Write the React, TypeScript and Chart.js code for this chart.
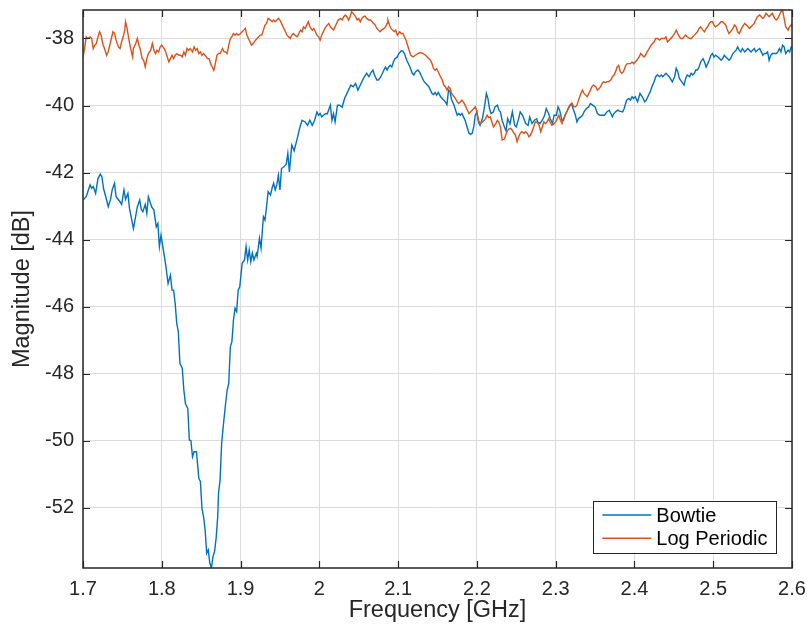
import React, { useEffect, useRef } from 'react';
import { Chart, registerables } from 'chart.js';

Chart.register(...registerables);

// ---------- data ----------
const seriesNames = ['Bowtie', 'Log Periodic'];
const seriesColors = ['#0072BD', '#D95319'];

const xTickValues = [1.7, 1.8, 1.9, 2.0, 2.1, 2.2, 2.3, 2.4, 2.5, 2.6];
const yTickValues = [-52, -50, -48, -46, -44, -42, -40, -38];
const xRange = [1.7, 2.6];
const yRange = [-53.8, -37.15];

// [frequency GHz, magnitude dB]
const bowtie: [number, number][] = [
  [1.700,-42.82],[1.704,-42.72],[1.709,-42.37],[1.711,-42.47],[1.713,-42.42],[1.716,-42.62],[1.719,-42.18],[1.722,-42.05],[1.724,-42.13],[1.726,-42.47],[1.730,-42.82],[1.732,-43.02],[1.735,-42.80],[1.737,-42.52],[1.740,-42.32],[1.742,-42.72],[1.747,-42.87],[1.749,-42.95],[1.752,-42.52],[1.754,-42.80],[1.757,-42.62],[1.759,-43.07],[1.764,-43.67],[1.766,-43.42],[1.769,-43.02],[1.772,-42.82],[1.774,-43.10],[1.776,-43.17],[1.779,-42.95],[1.781,-43.22],[1.783,-42.72],[1.787,-43.02],[1.790,-43.12],[1.793,-43.62],[1.795,-43.52],[1.797,-44.21],[1.799,-43.87],[1.802,-44.31],[1.805,-44.76],[1.808,-45.31],[1.811,-45.06],[1.813,-45.51],[1.815,-45.51],[1.817,-45.90],[1.819,-46.50],[1.821,-46.75],[1.823,-47.69],[1.826,-47.84],[1.828,-48.49],[1.830,-48.89],[1.833,-49.04],[1.835,-49.98],[1.837,-50.00],[1.839,-50.48],[1.841,-50.33],[1.844,-50.33],[1.847,-51.12],[1.849,-51.22],[1.851,-52.02],[1.853,-52.27],[1.855,-52.66],[1.857,-53.36],[1.859,-53.26],[1.861,-53.66],[1.863,-53.80],[1.865,-53.46],[1.867,-53.31],[1.869,-52.91],[1.871,-52.27],[1.872,-51.57],[1.874,-51.17],[1.876,-50.08],[1.878,-49.58],[1.881,-48.89],[1.883,-48.49],[1.885,-48.29],[1.887,-47.20],[1.889,-47.05],[1.891,-46.40],[1.893,-46.05],[1.895,-46.15],[1.897,-45.51],[1.899,-45.41],[1.902,-44.71],[1.905,-44.61],[1.907,-44.21],[1.909,-44.61],[1.911,-44.31],[1.913,-44.66],[1.915,-44.40],[1.917,-44.61],[1.920,-44.41],[1.921,-44.50],[1.924,-43.96],[1.926,-44.26],[1.929,-43.32],[1.931,-43.42],[1.933,-43.02],[1.935,-42.57],[1.938,-42.67],[1.940,-42.47],[1.942,-42.32],[1.944,-42.52],[1.946,-42.37],[1.948,-42.08],[1.950,-42.52],[1.952,-41.88],[1.955,-41.83],[1.958,-41.75],[1.960,-41.43],[1.962,-41.98],[1.965,-41.18],[1.968,-41.35],[1.972,-40.98],[1.975,-40.68],[1.978,-40.44],[1.982,-40.49],[1.985,-40.59],[1.988,-40.44],[1.991,-40.59],[1.994,-40.44],[1.997,-40.19],[1.999,-40.29],[2.001,-40.24],[2.003,-40.34],[2.008,-40.24],[2.010,-40.25],[2.014,-39.99],[2.016,-40.44],[2.018,-40.24],[2.020,-40.49],[2.023,-39.99],[2.026,-39.99],[2.029,-40.05],[2.032,-39.79],[2.034,-39.69],[2.037,-39.54],[2.040,-39.39],[2.043,-39.44],[2.046,-39.34],[2.049,-39.54],[2.051,-39.44],[2.056,-39.19],[2.060,-39.04],[2.063,-39.14],[2.065,-39.04],[2.068,-38.94],[2.070,-39.09],[2.073,-39.24],[2.075,-39.24],[2.078,-39.14],[2.082,-38.94],[2.084,-38.85],[2.086,-38.94],[2.088,-38.85],[2.090,-38.80],[2.092,-38.85],[2.094,-38.70],[2.096,-38.60],[2.099,-38.55],[2.101,-38.45],[2.104,-38.37],[2.106,-38.38],[2.108,-38.45],[2.111,-38.65],[2.115,-38.85],[2.118,-39.04],[2.120,-39.09],[2.122,-39.00],[2.125,-38.94],[2.127,-38.99],[2.130,-39.14],[2.133,-39.29],[2.137,-39.39],[2.139,-39.44],[2.141,-39.54],[2.143,-39.64],[2.145,-39.67],[2.147,-39.61],[2.149,-39.69],[2.151,-39.61],[2.154,-39.74],[2.156,-39.79],[2.158,-39.84],[2.160,-39.89],[2.162,-39.97],[2.164,-39.54],[2.166,-39.59],[2.168,-39.84],[2.171,-39.99],[2.173,-40.14],[2.175,-40.29],[2.177,-40.24],[2.179,-40.29],[2.181,-40.24],[2.183,-40.34],[2.185,-40.44],[2.188,-40.68],[2.190,-40.83],[2.192,-40.86],[2.194,-40.83],[2.196,-40.64],[2.198,-40.29],[2.200,-40.19],[2.202,-40.49],[2.204,-40.59],[2.207,-40.39],[2.210,-39.99],[2.212,-39.64],[2.214,-39.79],[2.216,-40.09],[2.218,-40.24],[2.221,-40.19],[2.223,-40.04],[2.226,-39.99],[2.228,-40.14],[2.230,-40.20],[2.232,-40.44],[2.235,-40.64],[2.237,-40.76],[2.239,-40.39],[2.242,-40.55],[2.245,-40.19],[2.248,-40.59],[2.250,-40.64],[2.253,-40.39],[2.255,-40.19],[2.258,-40.29],[2.262,-40.54],[2.265,-40.59],[2.267,-40.34],[2.270,-40.54],[2.273,-40.44],[2.276,-40.40],[2.277,-40.49],[2.280,-40.54],[2.283,-40.44],[2.286,-40.29],[2.288,-40.09],[2.291,-40.24],[2.293,-40.39],[2.296,-40.54],[2.298,-40.29],[2.301,-40.29],[2.303,-40.04],[2.305,-40.14],[2.308,-40.44],[2.310,-40.44],[2.312,-40.29],[2.315,-40.14],[2.318,-39.99],[2.320,-39.94],[2.322,-40.09],[2.325,-40.29],[2.327,-40.49],[2.329,-40.39],[2.332,-40.34],[2.334,-40.29],[2.336,-40.19],[2.339,-40.09],[2.342,-40.04],[2.344,-39.94],[2.347,-39.99],[2.350,-40.04],[2.353,-40.24],[2.356,-40.29],[2.359,-40.29],[2.362,-40.29],[2.365,-40.19],[2.368,-40.14],[2.370,-40.24],[2.372,-40.34],[2.374,-40.24],[2.376,-40.19],[2.379,-40.14],[2.381,-40.17],[2.385,-40.19],[2.387,-40.09],[2.390,-39.84],[2.393,-39.79],[2.395,-39.84],[2.397,-39.74],[2.399,-39.79],[2.401,-39.74],[2.404,-39.89],[2.407,-39.64],[2.410,-39.74],[2.413,-39.89],[2.415,-39.84],[2.417,-39.74],[2.420,-39.59],[2.423,-39.39],[2.425,-39.29],[2.427,-39.14],[2.429,-39.09],[2.432,-39.14],[2.434,-39.09],[2.436,-39.14],[2.438,-39.09],[2.440,-39.04],[2.442,-39.09],[2.444,-39.14],[2.448,-39.29],[2.451,-39.14],[2.453,-38.89],[2.455,-38.99],[2.457,-39.19],[2.460,-39.29],[2.463,-39.39],[2.465,-39.19],[2.467,-39.09],[2.470,-39.14],[2.472,-39.04],[2.474,-39.09],[2.476,-39.04],[2.478,-38.94],[2.480,-38.94],[2.482,-38.85],[2.484,-38.70],[2.487,-38.60],[2.489,-38.70],[2.491,-38.85],[2.493,-38.75],[2.495,-38.65],[2.497,-38.50],[2.499,-38.45],[2.501,-38.55],[2.503,-38.50],[2.506,-38.55],[2.508,-38.60],[2.510,-38.65],[2.512,-38.60],[2.514,-38.50],[2.516,-38.55],[2.518,-38.60],[2.520,-38.65],[2.522,-38.60],[2.525,-38.45],[2.527,-38.40],[2.529,-38.35],[2.531,-38.25],[2.533,-38.35],[2.535,-38.40],[2.537,-38.30],[2.540,-38.40],[2.542,-38.35],[2.544,-38.30],[2.546,-38.35],[2.548,-38.40],[2.550,-38.35],[2.552,-38.30],[2.554,-38.40],[2.556,-38.35],[2.559,-38.30],[2.561,-38.40],[2.563,-38.50],[2.565,-38.45],[2.567,-38.45],[2.569,-38.40],[2.571,-38.65],[2.573,-38.50],[2.575,-38.45],[2.578,-38.45],[2.580,-38.45],[2.582,-38.40],[2.584,-38.30],[2.586,-38.40],[2.588,-38.20],[2.590,-38.25],[2.592,-38.45],[2.595,-38.35],[2.597,-38.40],[2.599,-38.25],[2.600,-38.25]
];

const logPeriodic: [number, number][] = [
  [1.700,-38.55],[1.702,-38.30],[1.704,-37.95],[1.706,-38.00],[1.709,-37.95],[1.711,-38.00],[1.713,-38.30],[1.715,-38.20],[1.717,-38.15],[1.719,-37.95],[1.721,-37.80],[1.723,-37.90],[1.725,-38.15],[1.728,-38.35],[1.730,-38.50],[1.732,-38.40],[1.734,-38.20],[1.736,-38.00],[1.738,-37.80],[1.740,-37.85],[1.742,-38.05],[1.745,-38.25],[1.747,-38.30],[1.749,-38.10],[1.751,-37.95],[1.753,-37.75],[1.754,-37.50],[1.756,-37.70],[1.758,-38.00],[1.760,-38.25],[1.763,-38.55],[1.764,-38.30],[1.767,-38.15],[1.769,-38.00],[1.771,-38.20],[1.773,-38.35],[1.775,-38.60],[1.777,-38.65],[1.779,-38.85],[1.781,-38.60],[1.783,-38.45],[1.786,-38.35],[1.788,-38.15],[1.790,-38.35],[1.792,-38.45],[1.794,-38.35],[1.796,-38.40],[1.798,-38.25],[1.800,-38.20],[1.803,-38.30],[1.805,-38.40],[1.807,-38.55],[1.809,-38.70],[1.811,-38.60],[1.813,-38.50],[1.815,-38.60],[1.817,-38.50],[1.819,-38.45],[1.822,-38.50],[1.824,-38.50],[1.826,-38.55],[1.828,-38.40],[1.830,-38.50],[1.832,-38.30],[1.834,-38.35],[1.836,-38.30],[1.839,-38.40],[1.841,-38.25],[1.843,-38.35],[1.845,-38.30],[1.847,-38.45],[1.849,-38.40],[1.851,-38.50],[1.853,-38.45],[1.855,-38.50],[1.858,-38.60],[1.860,-38.60],[1.862,-38.75],[1.864,-38.85],[1.866,-38.95],[1.868,-38.75],[1.870,-38.50],[1.872,-38.45],[1.874,-38.45],[1.877,-38.30],[1.879,-38.40],[1.881,-38.40],[1.883,-38.45],[1.885,-38.20],[1.887,-38.00],[1.889,-37.95],[1.891,-37.85],[1.893,-37.90],[1.895,-37.85],[1.897,-37.90],[1.900,-37.85],[1.902,-37.80],[1.904,-37.75],[1.906,-37.70],[1.908,-37.90],[1.910,-38.00],[1.912,-38.10],[1.914,-38.20],[1.916,-38.15],[1.919,-38.05],[1.921,-38.00],[1.923,-37.95],[1.925,-37.90],[1.927,-37.90],[1.929,-37.75],[1.931,-37.60],[1.933,-37.55],[1.935,-37.40],[1.938,-37.45],[1.940,-37.50],[1.942,-37.45],[1.944,-37.50],[1.946,-37.45],[1.948,-37.40],[1.950,-37.45],[1.952,-37.55],[1.955,-37.70],[1.957,-37.80],[1.959,-37.90],[1.961,-37.95],[1.963,-38.00],[1.965,-37.90],[1.967,-37.85],[1.969,-37.90],[1.972,-37.95],[1.974,-37.85],[1.976,-37.75],[1.978,-37.80],[1.980,-37.65],[1.982,-37.70],[1.984,-37.60],[1.986,-37.50],[1.988,-37.65],[1.991,-37.75],[1.993,-37.70],[1.995,-37.80],[1.997,-37.90],[1.999,-37.95],[2.001,-38.05],[2.003,-37.90],[2.005,-37.80],[2.007,-37.70],[2.010,-37.60],[2.012,-37.55],[2.014,-37.65],[2.016,-37.70],[2.018,-37.75],[2.020,-37.65],[2.022,-37.55],[2.024,-37.45],[2.027,-37.40],[2.029,-37.45],[2.031,-37.35],[2.033,-37.30],[2.035,-37.35],[2.037,-37.45],[2.039,-37.35],[2.041,-37.20],[2.043,-37.25],[2.046,-37.35],[2.048,-37.45],[2.050,-37.40],[2.052,-37.50],[2.054,-37.40],[2.056,-37.35],[2.058,-37.33],[2.060,-37.40],[2.063,-37.45],[2.065,-37.45],[2.067,-37.50],[2.069,-37.55],[2.071,-37.60],[2.073,-37.70],[2.075,-37.75],[2.077,-37.80],[2.079,-37.75],[2.082,-37.70],[2.084,-37.65],[2.086,-37.55],[2.087,-37.45],[2.089,-37.60],[2.091,-37.70],[2.093,-37.75],[2.095,-37.80],[2.097,-37.75],[2.099,-37.90],[2.102,-37.80],[2.104,-37.85],[2.106,-37.85],[2.108,-37.95],[2.110,-38.05],[2.112,-38.20],[2.114,-38.35],[2.116,-38.50],[2.119,-38.55],[2.122,-38.50],[2.125,-38.45],[2.128,-38.42],[2.132,-38.45],[2.135,-38.50],[2.137,-38.55],[2.139,-38.60],[2.141,-38.65],[2.143,-38.75],[2.145,-38.90],[2.147,-38.95],[2.149,-38.90],[2.151,-39.00],[2.154,-39.15],[2.156,-39.24],[2.158,-39.39],[2.160,-39.44],[2.162,-39.54],[2.164,-39.44],[2.166,-39.49],[2.168,-39.64],[2.171,-39.74],[2.173,-39.80],[2.175,-39.89],[2.177,-39.94],[2.179,-39.89],[2.181,-39.84],[2.183,-39.90],[2.185,-39.99],[2.188,-40.14],[2.190,-40.24],[2.192,-40.19],[2.194,-40.14],[2.196,-40.09],[2.198,-40.04],[2.200,-40.19],[2.202,-40.44],[2.204,-40.54],[2.207,-40.49],[2.209,-40.45],[2.211,-40.39],[2.213,-40.29],[2.215,-40.36],[2.217,-40.34],[2.219,-40.49],[2.221,-40.64],[2.224,-40.54],[2.226,-40.44],[2.228,-40.50],[2.230,-40.65],[2.232,-41.03],[2.235,-41.00],[2.237,-40.85],[2.239,-40.74],[2.241,-40.70],[2.243,-40.68],[2.245,-40.74],[2.247,-40.83],[2.249,-40.88],[2.251,-41.08],[2.253,-40.93],[2.255,-40.83],[2.257,-40.78],[2.260,-40.83],[2.262,-40.78],[2.264,-40.83],[2.266,-40.93],[2.268,-40.88],[2.270,-40.78],[2.272,-40.64],[2.274,-40.49],[2.276,-40.49],[2.279,-40.59],[2.281,-40.78],[2.283,-40.64],[2.285,-40.49],[2.287,-40.54],[2.289,-40.49],[2.291,-40.39],[2.293,-40.49],[2.295,-40.59],[2.298,-40.54],[2.300,-40.49],[2.302,-40.39],[2.304,-40.29],[2.306,-40.44],[2.308,-40.54],[2.310,-40.39],[2.312,-40.29],[2.315,-40.14],[2.317,-40.04],[2.319,-39.99],[2.321,-39.94],[2.323,-40.04],[2.325,-40.04],[2.327,-39.99],[2.329,-39.84],[2.332,-39.64],[2.334,-39.54],[2.336,-39.64],[2.338,-39.69],[2.340,-39.74],[2.342,-39.64],[2.344,-39.54],[2.346,-39.44],[2.348,-39.39],[2.351,-39.44],[2.353,-39.54],[2.355,-39.50],[2.357,-39.44],[2.359,-39.34],[2.361,-39.29],[2.363,-39.32],[2.365,-39.29],[2.367,-39.29],[2.370,-39.24],[2.372,-39.14],[2.374,-39.09],[2.376,-38.99],[2.378,-38.85],[2.380,-38.80],[2.382,-38.99],[2.384,-39.04],[2.386,-38.99],[2.389,-38.80],[2.391,-38.75],[2.393,-38.75],[2.395,-38.75],[2.397,-38.70],[2.399,-38.75],[2.401,-38.70],[2.403,-38.65],[2.406,-38.55],[2.408,-38.45],[2.410,-38.50],[2.412,-38.55],[2.414,-38.50],[2.416,-38.40],[2.418,-38.33],[2.421,-38.20],[2.423,-38.15],[2.425,-38.10],[2.427,-38.00],[2.429,-38.00],[2.432,-38.05],[2.434,-38.00],[2.436,-38.00],[2.438,-38.00],[2.440,-37.95],[2.442,-38.10],[2.444,-38.05],[2.446,-38.00],[2.448,-37.95],[2.451,-37.85],[2.453,-37.75],[2.455,-37.85],[2.457,-37.95],[2.459,-38.00],[2.461,-38.00],[2.463,-37.95],[2.465,-37.90],[2.467,-37.95],[2.470,-38.00],[2.472,-38.00],[2.474,-37.95],[2.476,-37.90],[2.478,-37.85],[2.480,-37.80],[2.482,-37.70],[2.484,-37.65],[2.487,-37.75],[2.489,-37.80],[2.491,-37.70],[2.493,-37.65],[2.495,-37.55],[2.497,-37.50],[2.499,-37.50],[2.501,-37.60],[2.503,-37.65],[2.506,-37.60],[2.508,-37.55],[2.510,-37.50],[2.512,-37.50],[2.514,-37.55],[2.516,-37.60],[2.518,-37.75],[2.520,-37.85],[2.522,-37.80],[2.525,-37.70],[2.527,-37.60],[2.529,-37.65],[2.531,-37.80],[2.533,-37.85],[2.535,-37.75],[2.537,-37.65],[2.540,-37.55],[2.542,-37.60],[2.544,-37.65],[2.546,-37.70],[2.548,-37.65],[2.550,-37.60],[2.552,-37.55],[2.554,-37.45],[2.556,-37.35],[2.559,-37.30],[2.561,-37.35],[2.563,-37.40],[2.565,-37.35],[2.567,-37.25],[2.569,-37.30],[2.571,-37.35],[2.573,-37.30],[2.575,-37.25],[2.578,-37.40],[2.580,-37.45],[2.582,-37.40],[2.584,-37.30],[2.586,-37.20],[2.588,-37.15],[2.590,-37.40],[2.592,-37.65],[2.595,-37.75],[2.597,-37.65],[2.599,-37.60],[2.600,-37.55]
];

// ---------- styling ----------
const FONT = '"Liberation Sans", Arial, Helvetica, sans-serif';
const AXIS_COLOR = '#262626';
const GRID_COLOR = '#dcdcdc';

const fmtX = (v: number) => String(parseFloat(Number(v).toFixed(2)));

const framePlugin = {
  id: 'matlabFrame',
  afterDatasetsDraw(chart: any) {
    const { ctx, chartArea: a, scales } = chart;
    ctx.save();
    // ticks (inward, all four sides)
    ctx.strokeStyle = AXIS_COLOR;
    ctx.lineWidth = 1.2;
    const L = 7;
    ctx.beginPath();
    for (const v of xTickValues) {
      const p = Math.round(scales.x.getPixelForValue(v)) + 0.5;
      ctx.moveTo(p, a.bottom); ctx.lineTo(p, a.bottom - L);
      ctx.moveTo(p, a.top); ctx.lineTo(p, a.top + L);
    }
    for (const v of yTickValues) {
      const p = Math.round(scales.y.getPixelForValue(v)) + 0.5;
      ctx.moveTo(a.left, p); ctx.lineTo(a.left + L, p);
      ctx.moveTo(a.right, p); ctx.lineTo(a.right - L, p);
    }
    ctx.stroke();
    // box
    ctx.lineWidth = 1.5;
    ctx.strokeRect(a.left, a.top, a.right - a.left, a.bottom - a.top);

    // legend
    const ds = chart.data.datasets;
    ctx.font = `20px ${FONT}`;
    let tw = 0;
    for (const d of ds) tw = Math.max(tw, ctx.measureText(d.label).width);
    const padL = 9.5, lineLen = 49, gap = 5, padR = 8.5;
    const w = padL + lineLen + gap + tw + padR;
    const h = 52;
    const right = a.right - 16;
    const bottom = a.bottom - 15.5;
    const left = right - w;
    const top = bottom - h;
    ctx.fillStyle = '#ffffff';
    ctx.fillRect(left, top, w, h);
    ctx.lineWidth = 1;
    ctx.strokeStyle = AXIS_COLOR;
    ctx.strokeRect(Math.round(left) + 0.5, Math.round(top) + 0.5, Math.round(w), Math.round(h));
    const rows = [top + 14.5, top + 37.8];
    ds.forEach((d: any, i: number) => {
      const y = rows[i];
      ctx.strokeStyle = d.borderColor;
      ctx.lineWidth = 1.4;
      ctx.beginPath();
      ctx.moveTo(left + padL, y);
      ctx.lineTo(left + padL + lineLen, y);
      ctx.stroke();
      ctx.fillStyle = '#000000';
      ctx.textAlign = 'left';
      ctx.textBaseline = 'middle';
      ctx.fillText(d.label, left + padL + lineLen + gap, y + 1);
    });
    ctx.restore();
  },
};

export default function App() {
  const ref = useRef<HTMLCanvasElement | null>(null);

  useEffect(() => {
    document.body.style.margin = '0';
    const canvas = ref.current;
    if (!canvas) return;
    const chart = new Chart(canvas, {
      type: 'line',
      data: {
        datasets: [
          {
            label: seriesNames[0],
            data: bowtie.map(([x, y]) => ({ x, y })),
            borderColor: seriesColors[0],
            backgroundColor: seriesColors[0],
            order: 1,
          },
          {
            label: seriesNames[1],
            data: logPeriodic.map(([x, y]) => ({ x, y })),
            borderColor: seriesColors[1],
            backgroundColor: seriesColors[1],
            order: 0,
          },
        ],
      },
      options: {
        responsive: false,
        animation: false,
        devicePixelRatio: 1,
        layout: { padding: { top: 10, right: 15, left: 0, bottom: 0 } },
        elements: {
          point: { radius: 0, hoverRadius: 0 },
          line: { borderWidth: 1.4, tension: 0 },
        },
        plugins: {
          legend: { display: false },
          tooltip: { enabled: false },
        },
        scales: {
          x: {
            type: 'linear',
            min: xRange[0],
            max: xRange[1],
            afterBuildTicks: (s: any) => {
              s.ticks = xTickValues.map((v) => ({ value: v }));
            },
            afterFit: (s: any) => {
              s.height = 57;
              s.paddingLeft = 0;
              s.paddingRight = 0;
            },
            ticks: {
              autoSkip: false,
              maxRotation: 0,
              padding: 9,
              color: AXIS_COLOR,
              font: { family: FONT, size: 20 },
              callback: (v: any) => fmtX(v),
            },
            grid: { color: GRID_COLOR, lineWidth: 1, drawTicks: false },
            border: { display: false },
            title: {
              display: true,
              text: 'Frequency [GHz]',
              color: AXIS_COLOR,
              font: { family: FONT, size: 23.5 },
              padding: { top: 0, bottom: 0 },
            },
          },
          y: {
            type: 'linear',
            min: yRange[0],
            max: yRange[1],
            afterBuildTicks: (s: any) => {
              s.ticks = yTickValues.map((v) => ({ value: v }));
            },
            afterFit: (s: any) => {
              s.width = 83;
              s.paddingTop = 0;
              s.paddingBottom = 0;
            },
            ticks: {
              autoSkip: false,
              padding: 9,
              color: AXIS_COLOR,
              font: { family: FONT, size: 20 },
              callback: (v: any) => String(v),
            },
            grid: { color: GRID_COLOR, lineWidth: 1, drawTicks: false },
            border: { display: false },
            title: {
              display: true,
              text: 'Magnitude [dB]',
              color: AXIS_COLOR,
              font: { family: FONT, size: 23.5 },
              padding: { top: 8, bottom: 0 },
            },
          },
        },
      },
      plugins: [framePlugin],
    } as any);
    return () => chart.destroy();
  }, []);

  return (
    <div style={{ position: 'absolute', left: 0, top: 0, width: 807, height: 625, background: '#ffffff' }}>
      <canvas ref={ref} width={807} height={625} style={{ display: 'block', width: 807, height: 625 }} />
    </div>
  );
}
